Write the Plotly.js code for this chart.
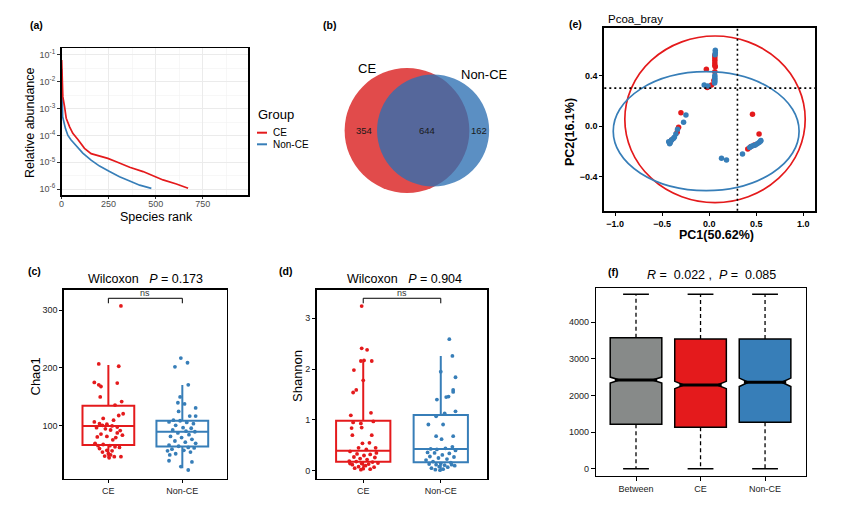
<!DOCTYPE html>
<html><head><meta charset="utf-8">
<script src="https://cdn.plot.ly/plotly-3.0.1.min.js"></script>
<style>html,body{margin:0;padding:0;background:#fff}#chart{width:849px;height:512px}</style>
</head><body><div id="chart"></div>
<script>
// ================= DATA =================
// (a) rank-abundance curves
const rankCE  = [1,3,7,16,25,43,60,87,122,157,202,246,291,362,433,486,539,610,672];
const abunCE  = [6.5e-2,1.0e-2,2.8e-3,1.2e-3,4.4e-4,2.1e-4,1.2e-4,7.1e-5,3.3e-5,2.1e-5,1.7e-5,1.4e-5,1.05e-5,6.5e-6,4.5e-6,3.1e-6,2.2e-6,1.55e-6,1.07e-6];
const rankNon = [1,2,4,6,21,34,51,78,113,157,202,255,308,362,415,477];
const abunNon = [3.0e-2,1.0e-2,2.5e-3,5.0e-4,1.8e-4,1.0e-4,6.8e-5,4.0e-5,2.2e-5,1.2e-5,7.2e-6,4.5e-6,2.9e-6,2.0e-6,1.4e-6,1.07e-6];
const rankTicks = [0,250,500,750];
const abunTickExp = [-6,-5,-4,-3,-2,-1];
const groups = ['CE','Non-CE'];

// (b) Venn counts: CE only, shared, Non-CE only
const vennCounts = [354, 644, 162];

// (e) PCoA points [PC1, PC2]
const pcoaCE = [[0.06,0.56],[0.06,0.54],[0.06,0.52],[0.06,0.50],[0.06,0.48],[0.065,0.47],[-0.03,0.45],[0.06,0.43],[0.05,0.36],[0.025,0.325],[-0.02,0.305],
  [-0.30,0.105],[-0.325,-0.01],[-0.34,-0.05],[-0.40,-0.11],
  [0.46,0.093],[0.53,-0.063],[0.41,-0.182],[0.44,-0.165],[0.48,-0.15]];
const pcoaNon = [[0.065,0.60],[0.065,0.58],[0.062,0.565],[0.06,0.40],[0.06,0.385],[0.06,0.37],[0.06,0.355],[0.058,0.34],[-0.053,0.325],[-0.014,0.317],
  [-0.247,0.087],[-0.272,0.029],[-0.336,-0.026],[-0.354,-0.063],[-0.37,-0.09],[-0.38,-0.10],[-0.40,-0.111],[-0.414,-0.132],[-0.43,-0.125],[-0.42,-0.14],[-0.41,-0.12],
  [0.354,-0.222],[0.43,-0.17],[0.45,-0.16],[0.47,-0.155],[0.49,-0.15],[0.51,-0.14],[0.53,-0.13],[0.545,-0.12],[0.55,-0.115],
  [0.131,-0.256],[0.184,-0.27]];
// ellipses [cx, cy, semi-a, semi-b]
const ellCE  = [0.062, 0.053, 0.958, 0.66];
const ellNon = [-0.032, -0.041, 0.987, 0.471];
const pcoaRef = [0.3, 0.3];
const pcTicksX = [-1.0,-0.5,0.0,0.5,1.0];
const pcTicksY = [-0.4,0.0,0.4];

// (c) Chao1: box stats [q1, median, q3, lower, upper]; points [jitter, value]
const chaoBoxCE  = [67.2, 100, 135, 45, 205];
const chaoBoxNon = [64.4, 90.2, 109.1, 26.9, 170.7];
const chaoCE = [[0.17,307],[-0.13,207],[0.14,203],[-0.19,175],[-0.13,171],[-0.10,168],[0.12,174],[-0.11,150],[0.18,142],[0.09,136],
  [0.14,118],[-0.07,113],[0.07,110],[-0.12,104],[-0.08,101],[-0.02,103],[0.05,100],[0.12,98],[-0.16,97],[-0.04,95],
  [0.03,93],[0.16,92],[-0.10,86],[0.19,84],[-0.02,82],[0.10,80],[-0.15,81],[0.06,76],[-0.18,70],[-0.07,68],
  [0.02,66],[0.09,64],[0.15,63],[-0.12,61],[-0.02,58],[0.05,57],[-0.08,55],[0.00,52],[0.03,50],[-0.05,48],
  [0.08,47],[0.17,47],[0.01,45],[-0.14,66],[0.12,88],[-0.19,107],[0.20,121]];
const chaoNon = [[-0.10,202],[-0.02,217],[0.07,209],[0.08,171],[-0.03,150],[-0.06,140],[0.03,138],[0.18,131],[-0.05,125],[0.10,117],
  [0.18,117],[-0.12,110],[-0.18,107],[-0.03,109],[0.06,106],[0.15,104],[-0.09,101],[0.01,97],[0.12,96],[-0.13,93],
  [0.05,91],[0.17,90],[-0.06,88],[0.09,85],[-0.16,82],[-0.01,80],[0.13,77],[-0.10,74],[0.04,72],[0.18,70],
  [-0.18,67],[-0.05,65],[0.08,63],[0.16,62],[-0.14,60],[-0.20,57],[0.02,58],[0.11,55],[-0.09,52],[-0.17,50],
  [-0.18,40],[0.13,38],[0.08,24],[-0.02,30]];
const chaoTicks = [100,200,300];
const chaoSig = [311.6, 320.2];

// (d) Shannon
const shanBoxCE  = [0.177, 0.394, 0.984, 0.02, 2.15];
const shanBoxNon = [0.165, 0.427, 1.096, 0.01, 2.26];
const shanCE = [[-0.02,3.24],[-0.02,2.41],[0.05,2.38],[-0.03,2.16],[0.01,2.17],[0.11,2.16],[-0.12,1.98],[0.0,1.78],[-0.09,1.59],[-0.13,1.54],
  [-0.16,1.09],[0.10,1.14],[-0.13,0.95],[-0.03,0.93],[0.13,0.97],[-0.15,0.84],[-0.02,0.85],[0.11,0.70],[-0.14,0.70],[-0.01,0.54],
  [0.08,0.55],[-0.06,0.45],[0.04,0.42],[0.16,0.45],[-0.17,0.38],[-0.08,0.33],[0.01,0.30],[0.09,0.32],[-0.12,0.27],[0.15,0.26],
  [-0.04,0.24],[0.05,0.22],[-0.18,0.19],[-0.09,0.18],[0.12,0.17],[0.19,0.15],[-0.02,0.14],[0.07,0.13],[-0.14,0.12],[0.03,0.10],
  [-0.06,0.08],[0.14,0.07],[-0.11,0.05],[0.0,0.04],[0.09,0.03],[-0.03,0.02],[-0.17,0.14],[0.17,0.35]];
const shanNon = [[0.11,2.59],[0.15,2.26],[0.0,1.95],[0.19,1.84],[0.16,1.59],[0.16,1.55],[0.07,1.45],[0.10,1.46],[-0.05,1.40],[0.19,1.17],
  [-0.06,1.07],[0.05,1.13],[-0.16,0.91],[0.03,0.91],[-0.06,0.68],[0.16,0.68],[0.01,0.62],[0.15,0.47],[-0.13,0.43],[-0.05,0.42],
  [0.06,0.44],[0.19,0.40],[-0.17,0.36],[-0.08,0.35],[0.11,0.34],[0.02,0.31],[-0.14,0.28],[0.17,0.27],[-0.03,0.25],[0.08,0.23],
  [-0.19,0.21],[-0.10,0.18],[0.13,0.16],[0.0,0.14],[-0.06,0.12],[0.05,0.11],[-0.15,0.13],[0.18,0.10],[-0.02,0.08],[0.09,0.07],
  [-0.12,0.05],[0.03,0.03],[-0.07,0.02],[0.14,0.12],[-0.01,0.01]];
const shanTicks = [0,1,2,3];
const shanSig = [3.295, 3.394];

// (f) ANOSIM distance ranks
const anoCats   = ['Between','CE','Non-CE'];
const anoQ1     = [1213, 1131, 1268];
const anoMedian = [2423, 2287, 2361];
const anoQ3     = [3579, 3544, 3544];
const anoMin    = [0, 0, 0];
const anoMax    = [4765, 4765, 4765];
const anoNotch  = [80, 100, 115];
const anoTicks  = [0,1000,2000,3000,4000];

// ================= HELPERS =================
const W = 849, H = 512;
const px = v => v / W;
const py = v => 1 - v / H;
const domX = (a, b) => [a / W, b / W];
const domY = (top, bottom) => [1 - bottom / H, 1 - top / H];
const FONT = 'Liberation Sans, Arial, Helvetica, sans-serif';
const RED = '#E41A1C', BLUE = '#377EB8', GREY = '#878A89';
const NB = '\u00A0';

function txt(text, x, y, size, extra) {
  return Object.assign({text, x: px(x), y: py(y), xref: 'paper', yref: 'paper', showarrow: false,
    xanchor: 'center', yanchor: 'middle', font: {family: FONT, size: size, color: '#000'}}, extra || {});
}

const traces = [];
const shapes = [];
const annotations = [];

// ================= (a) =================
traces.push({type: 'scatter', mode: 'lines', x: rankNon, y: abunNon, xaxis: 'x', yaxis: 'y',
  line: {color: BLUE, width: 1.7}, hoverinfo: 'skip', showlegend: false});
traces.push({type: 'scatter', mode: 'lines', x: rankCE, y: abunCE, xaxis: 'x', yaxis: 'y',
  line: {color: RED, width: 1.7}, hoverinfo: 'skip', showlegend: false});

// legend (manual)
annotations.push(txt('Group', 256, 114, 13, {xanchor: 'left'}));
[[groups[0], RED, 132.7], [groups[1], BLUE, 144.3]].forEach(([g, c, y]) => {
  shapes.push({type: 'line', xref: 'paper', yref: 'paper', x0: px(257), x1: px(267), y0: py(y), y1: py(y), line: {color: c, width: 2}});
  annotations.push(txt(g, 270.5, y, 10, {xanchor: 'left'}));
});

// ================= (b) Venn =================
const totA = vennCounts[0] + vennCounts[1];
const totB = vennCounts[2] + vennCounts[1];
const shared = vennCounts[1];
const r1 = Math.sqrt(totA / Math.PI), r2 = Math.sqrt(totB / Math.PI);
function lens(d) {
  if (d >= r1 + r2) return 0;
  if (d <= Math.abs(r1 - r2)) return Math.PI * Math.min(r1, r2) ** 2;
  const a = r1 * r1 * Math.acos((d * d + r1 * r1 - r2 * r2) / (2 * d * r1));
  const b = r2 * r2 * Math.acos((d * d + r2 * r2 - r1 * r1) / (2 * d * r2));
  const c = 0.5 * Math.sqrt((-d + r1 + r2) * (d + r1 - r2) * (d - r1 + r2) * (d + r1 + r2));
  return a + b - c;
}
let lo = Math.abs(r1 - r2) + 1e-9, hi = r1 + r2;
for (let i = 0; i < 80; i++) { const m = (lo + hi) / 2; if (lens(m) > shared) lo = m; else hi = m; }
const dCent = (lo + hi) / 2;
const vScale = 3.5, vcx = 407, vcy = 130.5; // px per unit, red centre in px
const vDomX = [330, 505], vDomY = [40, 215];
const vRangeX = [(vDomX[0] - vcx) / vScale, (vDomX[1] - vcx) / vScale];
const vRangeY = [-(vDomY[1] - vcy) / vScale, (vcy - vDomY[0]) / vScale];
shapes.push({type: 'circle', xref: 'x2', yref: 'y2', x0: -r1, x1: r1, y0: -r1, y1: r1,
  fillcolor: 'rgb(225,75,75)', line: {width: 0}, layer: 'below'});
shapes.push({type: 'circle', xref: 'x2', yref: 'y2', x0: dCent - r2, x1: dCent + r2, y0: -r2, y1: r2,
  fillcolor: 'rgba(45,112,178,0.78)', line: {width: 0}, layer: 'below'});
const vLab = [((-r1) + (dCent - r2)) / 2 + 1, ((dCent - r2) + r1) / 2 + 1, (r1 + dCent + r2) / 2];
vLab.forEach((x, i) => annotations.push({text: String(vennCounts[i]), x: x, y: 0, xref: 'x2', yref: 'y2', showarrow: false,
  font: {family: FONT, size: 9.5, color: '#1a1a1a'}}));
annotations.push(txt('CE', 367, 68, 13));
annotations.push(txt('Non-CE', 484, 74, 13));

// ================= (e) PCoA =================
[[ellCE, RED], [ellNon, BLUE]].forEach(([e, c]) => shapes.push({type: 'circle', xref: 'x3', yref: 'y3',
  x0: e[0] - e[2], x1: e[0] + e[2], y0: e[1] - e[3], y1: e[1] + e[3], line: {color: c, width: 1.7}}));
shapes.push({type: 'line', xref: 'x3', yref: 'y3 domain', x0: pcoaRef[0], x1: pcoaRef[0], y0: 0, y1: 1, line: {color: '#000', width: 1.6, dash: '2px,3px'}});
shapes.push({type: 'line', xref: 'x3 domain', yref: 'y3', x0: 0, x1: 1, y0: pcoaRef[1], y1: pcoaRef[1], line: {color: '#000', width: 1.6, dash: '2px,3px'}});
traces.push({type: 'scatter', mode: 'markers', x: pcoaCE.map(p => p[0]), y: pcoaCE.map(p => p[1]), xaxis: 'x3', yaxis: 'y3',
  marker: {color: RED, size: 5.5}, hoverinfo: 'skip', showlegend: false});
traces.push({type: 'scatter', mode: 'markers', x: pcoaNon.map(p => p[0]), y: pcoaNon.map(p => p[1]), xaxis: 'x3', yaxis: 'y3',
  marker: {color: BLUE, size: 5.5}, hoverinfo: 'skip', showlegend: false});

// ================= (c),(d) boxes =================
function alphaPanel(xa, ya, boxCE, boxNon, ptsCE, ptsNon, sig) {
  [[boxCE, RED, 0], [boxNon, BLUE, 1]].forEach(([b, c, pos]) => traces.push({type: 'box', x: [pos], q1: [b[0]], median: [b[1]], q3: [b[2]],
    lowerfence: [b[3]], upperfence: [b[4]], xaxis: xa, yaxis: ya, width: 0.7, whiskerwidth: 0, boxpoints: false,
    line: {color: c, width: 2}, fillcolor: 'rgba(255,255,255,0)', hoverinfo: 'skip', showlegend: false}));
  [[ptsCE, RED, 0], [ptsNon, BLUE, 1]].forEach(([p, c, pos]) => traces.push({type: 'scatter', mode: 'markers',
    x: p.map(d => pos + d[0]), y: p.map(d => d[1]), xaxis: xa, yaxis: ya,
    marker: {color: c, size: 3.8}, hoverinfo: 'skip', showlegend: false}));
  traces.push({type: 'scatter', mode: 'lines', x: [0, 0, 1, 1], y: [sig[0], sig[1], sig[1], sig[0]], xaxis: xa, yaxis: ya,
    line: {color: '#000', width: 1}, hoverinfo: 'skip', showlegend: false, cliponaxis: false});
}
alphaPanel('x4', 'y4', chaoBoxCE, chaoBoxNon, chaoCE, chaoNon, chaoSig);
alphaPanel('x5', 'y5', shanBoxCE, shanBoxNon, shanCE, shanNon, shanSig);

// ================= (f) ANOSIM =================
const anoFill = [GREY, RED, BLUE];
const anoBoxW = 0.8, anoNW = 0.18, anoCap = 0.2;
anoCats.forEach((c, i) => {
  traces.push({type: 'scatter', mode: 'lines', x: [i, i, null, i, i], y: [anoQ3[i], anoMax[i], null, anoQ1[i], anoMin[i]],
    xaxis: 'x6', yaxis: 'y6', line: {color: '#000', width: 1.3, dash: '4px,3px'}, hoverinfo: 'skip', showlegend: false});
  traces.push({type: 'scatter', mode: 'lines', x: [i - anoCap, i + anoCap, null, i - anoCap, i + anoCap],
    y: [anoMax[i], anoMax[i], null, anoMin[i], anoMin[i]],
    xaxis: 'x6', yaxis: 'y6', line: {color: '#000', width: 1.5}, hoverinfo: 'skip', showlegend: false});
});
anoCats.forEach((c, i) => {
  traces.push({type: 'box', x: [i], q1: [anoQ1[i]], median: [anoMedian[i]], q3: [anoQ3[i]], lowerfence: [anoQ1[i]], upperfence: [anoQ3[i]],
    notched: true, notchspan: [anoNotch[i]], notchwidth: anoNW, width: anoBoxW, whiskerwidth: 0, boxpoints: false,
    xaxis: 'x6', yaxis: 'y6', line: {color: '#000', width: 1.5}, fillcolor: anoFill[i], hoverinfo: 'skip', showlegend: false});
  const hw = anoBoxW / 2 * (1 - anoNW);
  traces.push({type: 'scatter', mode: 'lines', x: [i - hw, i + hw], y: [anoMedian[i], anoMedian[i]], xaxis: 'x6', yaxis: 'y6',
    line: {color: '#000', width: 3}, hoverinfo: 'skip', showlegend: false});
});

// ================= AXES =================
const tickF = (size, color, weight) => ({family: FONT, size: size, color: color || '#222', weight: weight || 'normal'});
const frame = {showline: true, mirror: true, linecolor: '#000', zeroline: false, showgrid: false};

const expVals = abunTickExp.map(e => Math.pow(10, e));
const expText = abunTickExp.map(e => '10<sup>' + e + '</sup>');
const halfVals = abunTickExp.slice(0, -1).map(e => Math.pow(10, e + 0.5)).concat([Math.pow(10, -0.5)]);

const layout = {
  width: W, height: H, margin: {l: 0, r: 0, t: 0, b: 0}, paper_bgcolor: '#fff', plot_bgcolor: 'rgba(0,0,0,0)',
  showlegend: false, font: {family: FONT},
  xaxis: Object.assign({}, frame, {domain: domX(61.5, 248), range: [0, 990], anchor: 'y', tickmode: 'array', tickvals: rankTicks,
    ticks: 'outside', ticklen: 2, tickcolor: '#333', tickfont: tickF(9, '#4D4D4D'), linewidth: 1.5, ticklabelstandoff: -2,
    showgrid: true, gridcolor: '#EBEBEB', gridwidth: 1,
    minor: {tickmode: 'array', tickvals: rankTicks.map(v => v + 125), showgrid: true, gridcolor: '#F2F2F2', gridwidth: 0.6, ticks: ''}}),
  yaxis: Object.assign({}, frame, {domain: domY(48, 195), type: 'log', range: [-6.22, -0.74], anchor: 'x', tickmode: 'array',
    tickvals: expVals, ticktext: expText, ticks: 'outside', ticklen: 3, tickcolor: '#333', tickfont: tickF(9, '#4D4D4D'), linewidth: 1.5,
    showgrid: true, gridcolor: '#EBEBEB', gridwidth: 1,
    minor: {tickmode: 'array', tickvals: halfVals, showgrid: true, gridcolor: '#F2F2F2', gridwidth: 0.6, ticks: ''}}),
  xaxis2: {domain: domX(vDomX[0], vDomX[1]), range: vRangeX, visible: false, anchor: 'y2', fixedrange: true},
  yaxis2: {domain: domY(vDomY[0], vDomY[1]), range: vRangeY, visible: false, anchor: 'x2', fixedrange: true},
  xaxis3: Object.assign({}, frame, {domain: domX(604.3, 815), range: [-1.114, 1.124], anchor: 'y3', tickmode: 'array', tickvals: pcTicksX,
    ticktext: pcTicksX.map(v => v.toFixed(1).replace('-', '\u2212')),
    ticks: 'outside', ticklen: 3, tickcolor: '#000', tickfont: tickF(9, '#000', 'bold'), linewidth: 2}),
  yaxis3: Object.assign({}, frame, {domain: domY(28.3, 210.7), range: [-0.671, 0.774], anchor: 'x3', tickmode: 'array', tickvals: pcTicksY,
    ticktext: pcTicksY.map(v => v.toFixed(1).replace('-', '\u2212')),
    ticks: 'outside', ticklen: 3, tickcolor: '#000', tickfont: tickF(9, '#000', 'bold'), linewidth: 2}),
  xaxis4: Object.assign({}, frame, {domain: domX(64, 226.7), range: [-0.6, 1.6], anchor: 'y4', tickmode: 'array', tickvals: [0, 1], ticktext: groups,
    ticks: 'outside', ticklen: 3, tickcolor: '#000', tickfont: tickF(9), linewidth: 1.6}),
  yaxis4: Object.assign({}, frame, {domain: domY(290, 478.7), range: [9, 334.5], anchor: 'x4', tickmode: 'array', tickvals: chaoTicks,
    ticks: 'outside', ticklen: 3, tickcolor: '#000', tickfont: tickF(9), linewidth: 1.6}),
  xaxis5: Object.assign({}, frame, {domain: domX(316.7, 487.3), range: [-0.6, 1.6], anchor: 'y5', tickmode: 'array', tickvals: [0, 1], ticktext: groups,
    ticks: 'outside', ticklen: 3, tickcolor: '#000', tickfont: tickF(9), linewidth: 1.6}),
  yaxis5: Object.assign({}, frame, {domain: domY(290, 478.7), range: [-0.157, 3.557], anchor: 'x5', tickmode: 'array', tickvals: shanTicks,
    ticks: 'outside', ticklen: 3, tickcolor: '#000', tickfont: tickF(9), linewidth: 1.6}),
  xaxis6: Object.assign({}, frame, {domain: domX(596, 805.7), range: [-0.62, 2.63], anchor: 'y6', tickmode: 'array', tickvals: [0, 1, 2], ticktext: anoCats,
    ticks: 'outside', ticklen: 4, tickcolor: '#000', tickfont: tickF(9), linewidth: 1.2}),
  yaxis6: Object.assign({}, frame, {domain: domY(287.7, 475.7), range: [-191, 4945], anchor: 'x6', tickmode: 'array', tickvals: anoTicks,
    ticks: 'outside', ticklen: 4, tickcolor: '#000', tickfont: tickF(9), linewidth: 1.2}),
  shapes: shapes,
  annotations: annotations,
  boxmode: 'overlay'
};

// titles / labels
const bold = {font: {family: FONT, size: 10.5, color: '#000', weight: 'bold'}};
annotations.push(txt('(a)', 36.5, 25, 10.5, bold));
annotations.push(txt('(b)', 329.5, 25, 10.5, bold));
annotations.push(txt('(e)', 575, 24, 10.5, bold));
annotations.push(txt('(c)', 34.5, 271, 10.5, bold));
annotations.push(txt('(d)', 285, 271, 10.5, bold));
annotations.push(txt('(f)', 613, 272, 10.5, bold));

annotations.push(txt('Relative abundance', 30, 123, 12.5, {textangle: -90}));
annotations.push(txt('Species rank', 156, 216.5, 12.5));
annotations.push(txt('Pcoa_bray', 606, 18.5, 11.5, {xanchor: 'left'}));
annotations.push(txt('PC1(50.62%)', 716, 235, 12.5, {font: {family: FONT, size: 12.5, color: '#000', weight: 'bold'}}));
annotations.push(txt('PC2(16.1%)', 570, 132, 12.5, {textangle: -90, font: {family: FONT, size: 12.5, color: '#000', weight: 'bold'}}));

annotations.push(txt('Wilcoxon' + NB + NB + NB + '<i>P</i> = 0.173', 145.3, 279, 12.5));
annotations.push(txt('Chao1', 34.5, 377, 13, {textangle: -90}));
annotations.push(txt('ns', 145.3, 293, 9, {font: {family: FONT, size: 9, color: '#333'}}));
annotations.push(txt('Wilcoxon' + NB + NB + NB + '<i>P</i> = 0.904', 404, 279, 12.5));
annotations.push(txt('Shannon', 297, 376, 13, {textangle: -90}));
annotations.push(txt('ns', 402, 293, 9, {font: {family: FONT, size: 9, color: '#333'}}));
annotations.push(txt('<i>R</i> =' + NB + NB + '0.022' + NB + ',' + NB + NB + '<i>P</i> =' + NB + NB + '0.085', 711.5, 275, 12.5));

Plotly.newPlot('chart', traces, layout, {displayModeBar: false, staticPlot: true});
</script>
</body></html>
